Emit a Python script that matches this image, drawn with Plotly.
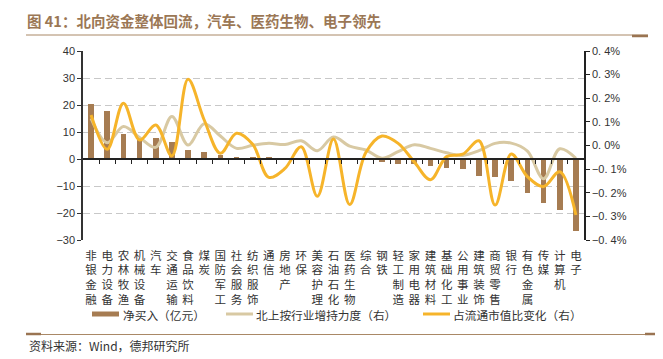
import plotly.graph_objects as go

categories = ["非银金融", "电力设备", "农林牧渔", "机械设备", "汽车", "交通运输", "食品饮料", "煤炭",
              "国防军工", "社会服务", "纺织服饰", "通信", "房地产", "环保", "美容护理", "石油石化",
              "医药生物", "综合", "钢铁", "轻工制造", "家用电器", "建筑材料", "基础化工", "公用事业",
              "建筑装饰", "商贸零售", "银行", "有色金属", "传媒", "计算机", "电子"]

net_buy = [20.4, 17.6, 9.3, 7.0, 7.6, 6.2, 3.3, 2.6, 1.6, 0.8, 0.4, 0.4, 0.1, 0.05, -0.1, -0.1,
           -0.2, -0.3, -1.2, -1.8, -1.9, -2.5, -3.5, -3.7, -6.2, -6.8, -8.0, -12.7, -16.3, -18.9, -26.8]

holding_strength = [0.115, 0.012, 0.08, 0.034, -0.008, 0.123, 0.002, 0.092, 0.04, -0.012, 0.001,
                    0.009, 0.004, 0.02, -0.022, 0.036, -0.003, -0.019, -0.054, -0.026, 0.003,
                    -0.012, -0.031, -0.042, -0.022, 0.009, 0.01, -0.024, -0.141, -0.014, -0.054]

float_share_change = [0.129, -0.016, 0.179, 0.023, 0.087, -0.044, 0.28, 0.108, -0.033, 0.052, 0.005,
                      -0.135, -0.097, -0.005, -0.215, 0.027, -0.25, -0.03, 0.04, 0.009, -0.07,
                      -0.145, -0.047, -0.037, 0.02, -0.252, -0.036, -0.132, -0.174, -0.111, -0.294]

left_ticks = [-30, -20, -10, 0, 10, 20, 30, 40]
right_ticks = [-0.4, -0.3, -0.2, -0.1, 0.0, 0.1, 0.2, 0.3, 0.4]
right_ticktext = ["−0. 4%", "−0. 3%", "−0. 2%", "−0. 1%", "0. 0%", "0. 1%", "0. 2%", "0. 3%", "0. 4%"]

title_text = "图 41：北向资金整体回流，汽车、医药生物、电子领先"
source_text = "资料来源：Wind，德邦研究所"
names = ["净买入（亿元）", "北上按行业增持力度（右）", "占流通市值比变化（右）"]

BROWN = "#A67C52"
BEIGE = "#D8C9A3"
YELLOW = "#F6B42A"
RULE = "#A98866"
TXT = "#333333"

# the page body has an 8px default margin; the figure is sized to fill the rest of the window
OFF = 8
WIN_W, WIN_H = 663, 359
W, H = WIN_W - OFF, WIN_H - OFF
PLOT_L, PLOT_R, PLOT_T, PLOT_B = 83, 584, 51, 240   # target screen pixels of the plot area
ML, MR, MT, MB = PLOT_L - OFF, WIN_W - PLOT_R, PLOT_T - OFF, WIN_H - PLOT_B
PW, PH = W - ML - MR, H - MT - MB

def px_x(sx):
    return (sx - OFF - ML) / PW

def px_y(sy):
    return (H - MB - (sy - OFF)) / PH

idx = list(range(len(categories)))
labels = ["<br>".join(list(c)) for c in categories]
yrange = [left_ticks[0], left_ticks[-1]]
zero_pos = (0 - yrange[0]) / (yrange[1] - yrange[0])

fig = go.Figure()
fig.add_trace(go.Bar(x=idx, y=net_buy, marker=dict(color=BROWN, line=dict(width=0)),
                     width=0.35, showlegend=False, name=names[0]))
# keeps the zero-line axis alive
fig.add_trace(go.Scatter(x=[None], y=[None], mode="lines", line=dict(color=BROWN, width=5),
                         name=names[0], xaxis="x2", showlegend=False))
fig.add_trace(go.Scatter(x=idx, y=holding_strength, mode="lines", yaxis="y2", name=names[1],
                         showlegend=False,
                         line=dict(color=BEIGE, width=3, shape="spline", smoothing=1.0)))
fig.add_trace(go.Scatter(x=idx, y=float_share_change, mode="lines", yaxis="y2", name=names[2],
                         showlegend=False,
                         line=dict(color=YELLOW, width=3, shape="spline", smoothing=1.0)))

axis_font = dict(family="Liberation Sans, Arial", size=11, color=TXT)

fig.update_layout(
    width=W, height=H, autosize=False,
    margin=dict(l=ML, r=MR, t=MT, b=MB, autoexpand=False),
    paper_bgcolor="white", plot_bgcolor="white",
    bargap=0,
    xaxis=dict(range=[-0.5, len(categories) - 0.5], tickmode="array", tickvals=idx, ticktext=labels,
               ticks="", showline=False, showgrid=False, zeroline=False, ticklabelstandoff=7,
               tickfont=dict(family="Noto Sans CJK SC", size=11.5, color=TXT), tickangle=0),
    xaxis2=dict(overlaying="x", anchor="free", position=zero_pos,
                range=[-0.5, len(categories) - 0.5], tickmode="array",
                tickvals=[i + 0.5 for i in idx[:-1]], ticks="outside", ticklen=4, tickwidth=1,
                tickcolor="#222", showticklabels=False, showline=True, linecolor="#222", linewidth=1.5,
                showgrid=False, zeroline=False),
    yaxis=dict(range=yrange, tickmode="array", tickvals=left_ticks, showline=True, linecolor="#333",
               linewidth=1.5, ticks="outside", ticklen=4, tickcolor="#333", tickfont=axis_font,
               showgrid=True, gridcolor="#C8C8C8", gridwidth=1, griddash="7px,4px", zeroline=False),
    yaxis2=dict(overlaying="y", side="right", range=[right_ticks[0], right_ticks[-1]], tickmode="array",
                tickvals=right_ticks, ticktext=right_ticktext, showline=True, linecolor="#222",
                linewidth=1.5, ticks="outside", ticklen=4, tickcolor="#222", tickfont=axis_font,
                showgrid=False, zeroline=False),
    title=dict(text="<b>" + title_text + "</b>", x=(27 - OFF) / W, xanchor="left", xref="container",
               y=1 - (22 - OFF) / H, yanchor="middle", yref="container",
               font=dict(family="Noto Sans CJK SC", size=14.5, color="#9B7755")),
    showlegend=False,
)

fig.add_annotation(text=source_text, xref="paper", yref="paper", x=px_x(27), y=px_y(345),
                   xanchor="left", yanchor="middle", showarrow=False,
                   font=dict(family="Noto Sans CJK SC", size=12, color=TXT))

# legend drawn by hand (symbol spans and text start positions in screen pixels)
legend_items = [
    (names[0], BROWN, 5, 92, 119, 121),
    (names[1], BEIGE, 3, 226, 253, 254),
    (names[2], YELLOW, 3, 423, 450, 451),
]
LEG_Y = 314
shapes = []
for text, color, lw, s0, s1, tx in legend_items:
    shapes.append(dict(type="line", xref="paper", yref="paper", x0=px_x(s0), x1=px_x(s1),
                       y0=px_y(LEG_Y), y1=px_y(LEG_Y), line=dict(color=color, width=lw)))
    fig.add_annotation(text=text, xref="paper", yref="paper", x=px_x(tx), y=px_y(LEG_Y),
                       xanchor="left", yanchor="middle", showarrow=False,
                       font=dict(family="Noto Sans CJK SC", size=11.7, color=TXT))

shapes += [
    dict(type="line", xref="paper", yref="paper", x0=px_x(26), x1=px_x(648), y0=px_y(35), y1=px_y(35),
         line=dict(color=RULE, width=1)),
    dict(type="line", xref="paper", yref="paper", x0=px_x(632), x1=px_x(648), y0=px_y(36), y1=px_y(36),
         line=dict(color="#9A7452", width=2.5)),
    dict(type="line", xref="paper", yref="paper", x0=px_x(26), x1=px_x(662), y0=px_y(334.5), y1=px_y(334.5),
         line=dict(color=RULE, width=1)),
    dict(type="line", xref="paper", yref="paper", x0=px_x(26), x1=px_x(41), y0=px_y(334), y1=px_y(334),
         line=dict(color="#9A7452", width=2.5)),
    dict(type="line", xref="paper", yref="paper", x0=px_x(645), x1=px_x(662), y0=px_y(334), y1=px_y(334),
         line=dict(color="#9A7452", width=2.5)),
]
fig.update_layout(shapes=shapes)

fig.write_html("out.html")
